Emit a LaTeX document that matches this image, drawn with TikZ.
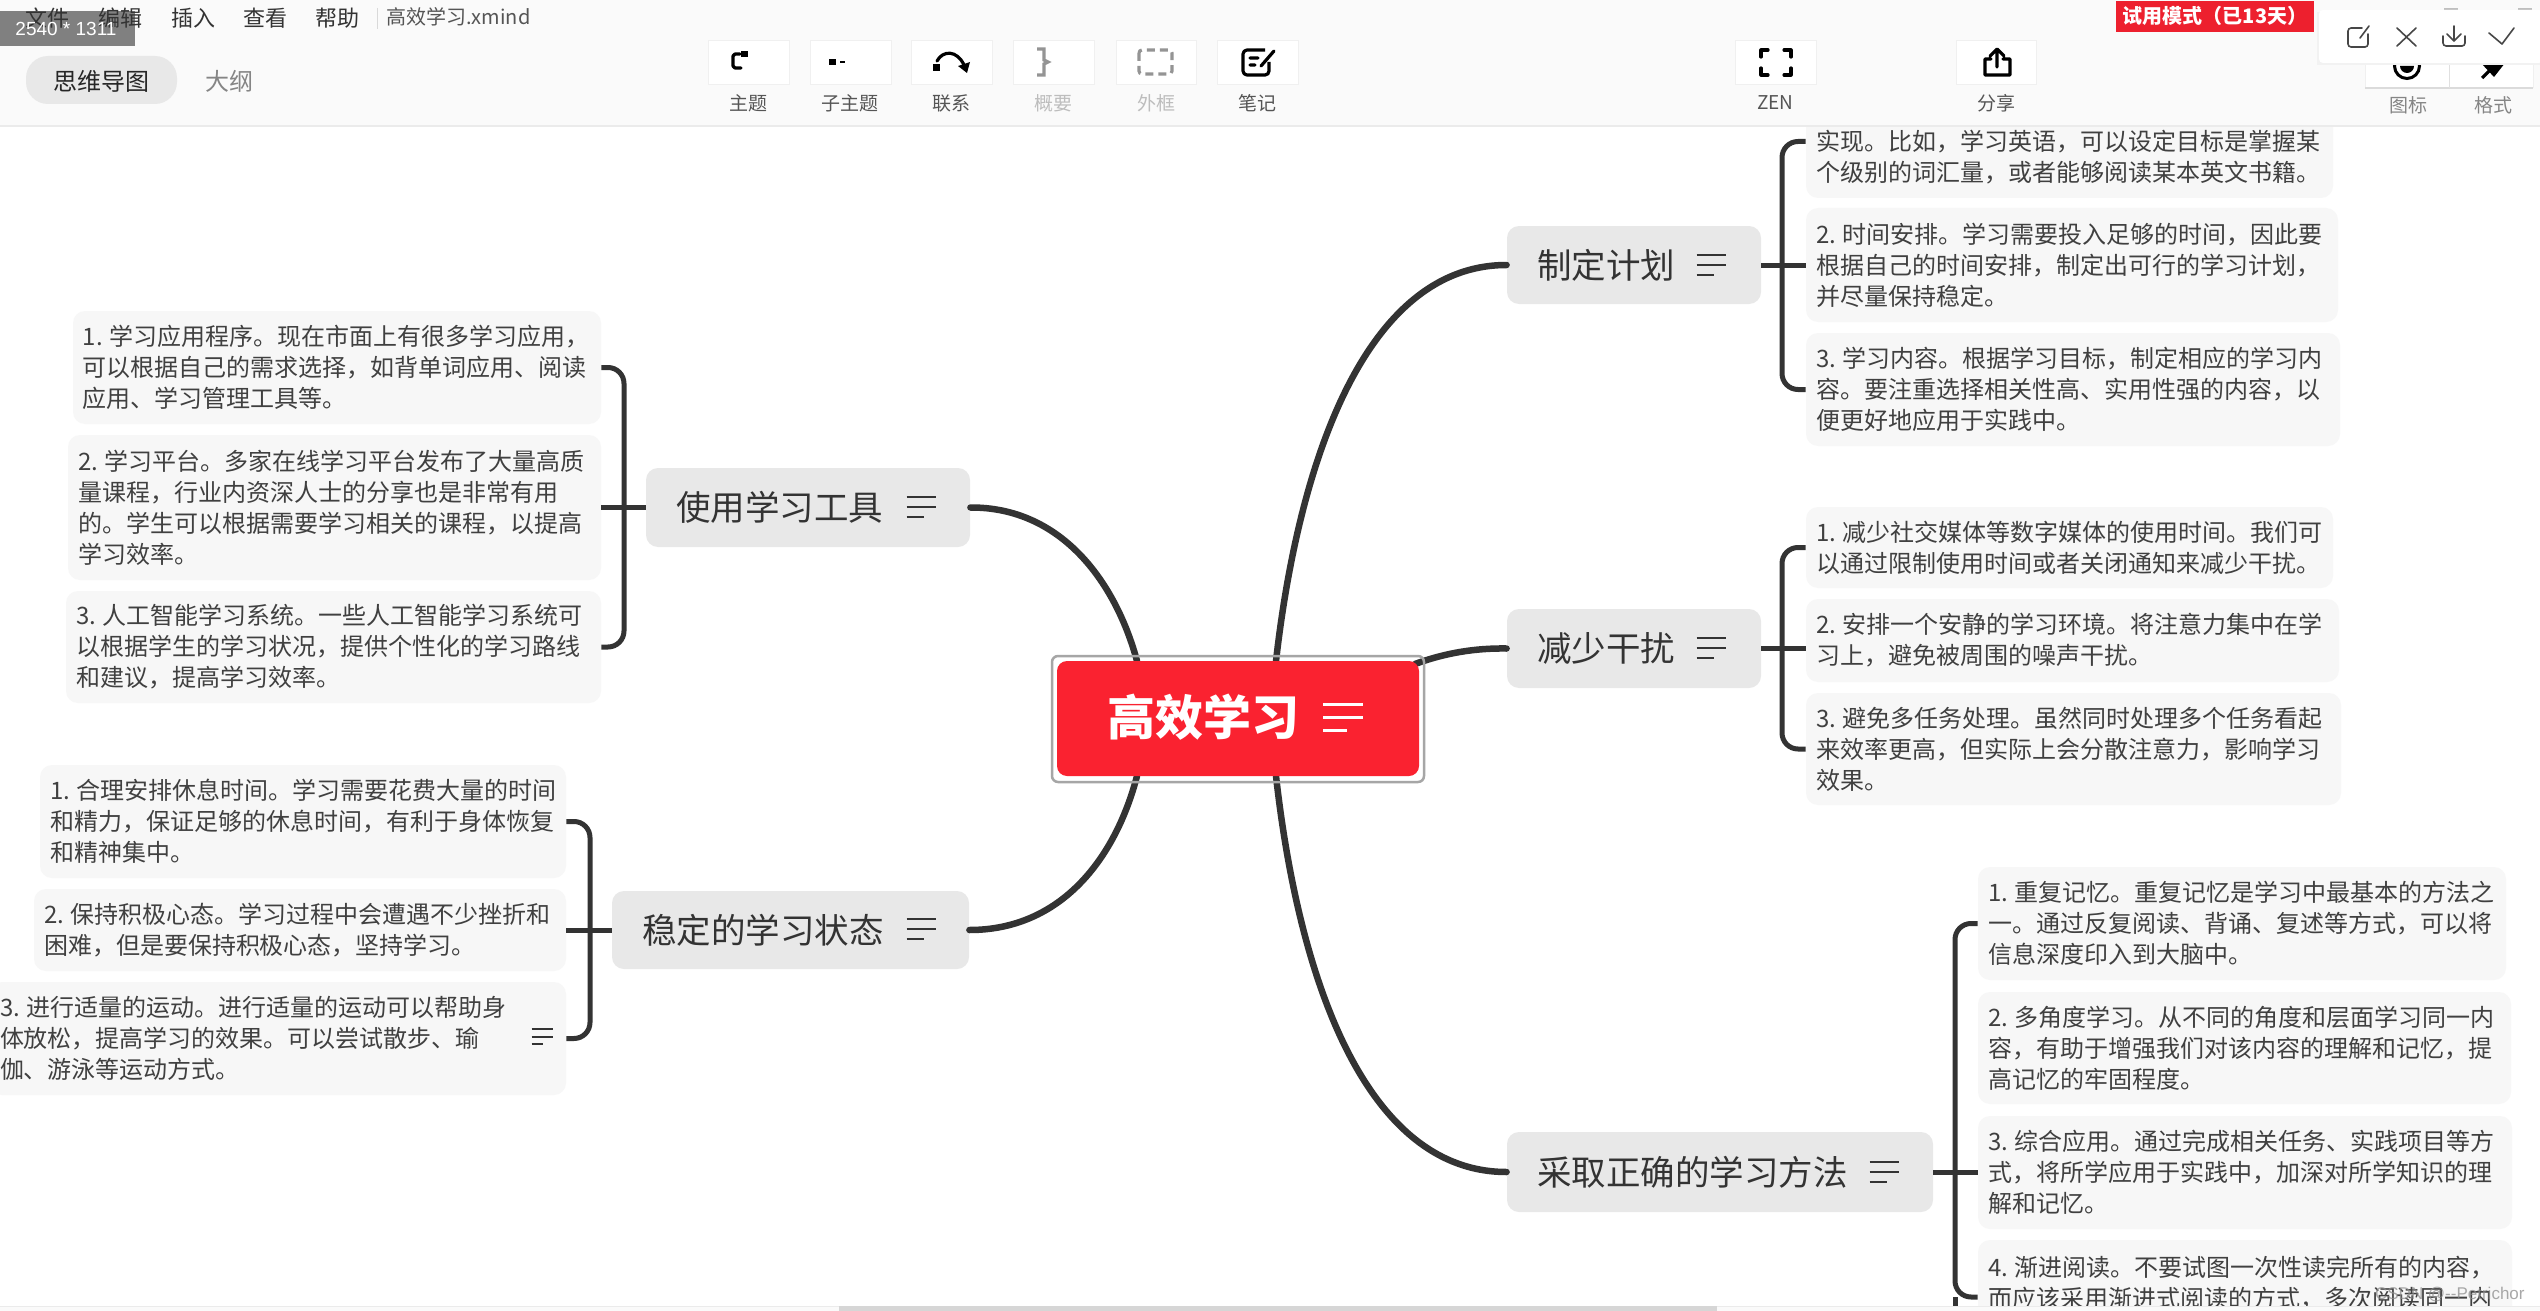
\documentclass[tikz,border=0pt]{standalone}
\usepackage{fontspec}
\setmainfont{Noto Sans CJK SC}
\newfontfamily\wmfont{Liberation Sans}
\definecolor{linec}{HTML}{333333}
\definecolor{notef}{HTML}{F7F7F7}
\definecolor{topicf}{HTML}{E8E8E8}
\definecolor{rootf}{HTML}{FA2230}
\definecolor{framec}{HTML}{A6A6A6}
\definecolor{barf}{HTML}{FAFAFA}
\definecolor{notet}{HTML}{404040}
\definecolor{uit}{HTML}{555555}
\definecolor{uid}{HTML}{BDBDBD}
\newcommand{\nstrut}{\rule{0pt}{10pt}}
\newcommand{\numgap}{\nobreak\hskip 3.5pt\relax}
\tikzset{
  note/.style 2 args={rectangle, rounded corners=6pt, fill=notef, inner xsep=5pt, inner ysep=0pt,
    minimum width=(#1)*0.5pt, minimum height=(#2)*0.5pt,
    /utils/exec={\pgfmathsetmacro\tbw{(#1)*0.5-10}}, text width=\tbw pt, align=flush left, text=notet,
    font=\fontsize{12pt}{15.5pt}\selectfont},
  topic/.style 2 args={rectangle, rounded corners=6pt, fill=topicf, inner xsep=15pt, inner ysep=0pt,
    minimum width=(#1)*0.5pt, minimum height=(#2)*0.5pt,
    /utils/exec={\pgfmathsetmacro\tbw{(#1)*0.5-30}}, text width=\tbw pt, align=left, text=linec,
    font=\fontsize{17.25pt}{20pt}\selectfont},
  branch/.style={draw=linec, line width=3.25pt, line cap=round},
  bracket/.style={draw=linec, line width=2.5pt, rounded corners=8pt},
  stem/.style={draw=linec, line width=2.5pt},
  uitext/.style={inner sep=0pt, font=\fontsize{#1}{#1}\selectfont},
  btn/.style={rectangle, fill=white, draw=black!6, line width=0.5pt, minimum height=22pt, inner sep=0pt},
  ico/.style={draw=black, line width=1.6pt, line cap=round, line join=round},
  icod/.style={draw=black!42, line width=1.6pt},
  pop/.style={draw=black!72, line width=0.8pt, line cap=round, line join=round},
  menuicon/.pic={\draw[line width=1.3pt,#1] (-14.5,-10)--(14.5,-10) (-14.5,0)--(14.5,0) (-14.5,10)--(2.5,10);},
  smallicon/.pic={\draw[line width=0.9pt,linec] (-10.5,-8)--(10.5,-8) (-10.5,0)--(10.5,0) (-10.5,7)--(1,7);},
}
\newcommand{\notebox}[6]{\node[note={#4-#2}{#5-#3}] (#1) at ({(#2+#4)/2},{(#3+#5)/2}) {#6};}
\newcommand{\topicbox}[6]{\node[topic={#4-#2}{#5-#3}] (#1) at ({(#2+#4)/2},{(#3+#5)/2}) {#6};}
\newcommand{\toolbtn}[4]{\draw[black!14,line width=1pt] (#2,#4+0.5)--(#3,#4+0.5);
  \node[btn,minimum width=(#3-#2)*0.5pt] (#1) at ({(#2+#3)/2},62.5) {};}
\begin{document}
\begin{tikzpicture}[x=0.5pt,y=-0.5pt]
\useasboundingbox (0,0) rectangle (2540,1311);
\fill[white] (0,0) rectangle (2540,1311);
\clip (0,0) rectangle (2540,1311);

% ---------- anchors on the central topic
\coordinate (rTR) at (1276,661);
\coordinate (rBR) at (1276,776);
\coordinate (rTL) at (1137,661);
\coordinate (rBL) at (1137,776);
\coordinate (rCorner) at (1415,664);

% ---------- topics
\topicbox{plan}{1507}{226}{1761}{304}{制定计划}
\topicbox{focus}{1507}{609}{1761}{688}{减少干扰}
\topicbox{method}{1507}{1132}{1933}{1212}{采取正确的学习方法}
\topicbox{tools}{646}{468}{970}{547}{使用学习工具}
\topicbox{state}{612}{891}{969}{969}{稳定的学习状态}
\path (1711,265) pic {menuicon=linec} (1711,648) pic {menuicon=linec} (1884,1172) pic {menuicon=linec}
      (921,507) pic {menuicon=linec} (921,929) pic {menuicon=linec};

% ---------- notes
\notebox{pa}{1806}{85}{2333}{198}{\nstrut\\实现。比如，学习英语，可以设定目标是掌握某\\个级别的词汇量，或者能够阅读某本英文书籍。}
\notebox{pb}{1806}{208}{2338}{322}{2.\numgap 时间安排。学习需要投入足够的时间，因此要\\根据自己的时间安排，制定出可行的学习计划，\\并尽量保持稳定。}
\notebox{pc}{1806}{333}{2340}{446}{3.\numgap 学习内容。根据学习目标，制定相应的学习内\\容。要注重选择相关性高、实用性强的内容，以\\便更好地应用于实践中。}

\notebox{fa}{1806}{507}{2333}{588}{1.\numgap 减少社交媒体等数字媒体的使用时间。我们可\\以通过限制使用时间或者关闭通知来减少干扰。}
\notebox{fb}{1806}{599}{2339}{682}{2.\numgap 安排一个安静的学习环境。将注意力集中在学\\习上，避免被周围的噪声干扰。}
\notebox{fc}{1806}{693}{2341}{805}{3.\numgap 避免多任务处理。虽然同时处理多个任务看起\\来效率更高，但实际上会分散注意力，影响学习\\效果。}

\notebox{ma}{1978}{867}{2506}{980}{1.\numgap 重复记忆。重复记忆是学习中最基本的方法之\\一。通过反复阅读、背诵、复述等方式，可以将\\信息深度印入到大脑中。}
\notebox{mb}{1978}{992}{2511}{1104}{2.\numgap 多角度学习。从不同的角度和层面学习同一内\\容，有助于增强我们对该内容的理解和记忆，提\\高记忆的牢固程度。}
\notebox{mc}{1978}{1116}{2512}{1229}{3.\numgap 综合应用。通过完成相关任务、实践项目等方\\式，将所学应用于实践中，加深对所学知识的理\\解和记忆。}
\notebox{md}{1978}{1240}{2512}{1354}{4.\numgap 渐进阅读。不要试图一次性读完所有的内容，\\而应该采用渐进式阅读的方式，多次阅读同一内\\\nstrut}

\notebox{ta}{73}{311}{601}{424}{1.\numgap 学习应用程序。现在市面上有很多学习应用，\\可以根据自己的需求选择，如背单词应用、阅读\\应用、学习管理工具等。}
\notebox{tb}{68}{435}{601}{580}{2.\numgap 学习平台。多家在线学习平台发布了大量高质\\量课程，行业内资深人士的分享也是非常有用\\的。学生可以根据需要学习相关的课程，以提高\\学习效率。}
\notebox{tc}{66}{591}{601}{703}{3.\numgap 人工智能学习系统。一些人工智能学习系统可\\以根据学生的学习状况，提供个性化的学习路线\\和建议，提高学习效率。}

\notebox{sa}{40}{765}{566}{878}{1.\numgap 合理安排休息时间。学习需要花费大量的时间\\和精力，保证足够的休息时间，有利于身体恢复\\和精神集中。}
\notebox{sb}{34}{889}{566}{971}{2.\numgap 保持积极心态。学习过程中会遭遇不少挫折和\\困难，但是要保持积极心态，坚持学习。}
\notebox{sc}{-10}{982}{566}{1095}{3.\numgap 进行适量的运动。进行适量的运动可以帮助身\\体放松，提高学习的效果。可以尝试散步、瑜\\伽、游泳等运动方式。}
\path (542,1037) pic {smallicon};

% ---------- main branches
\draw[branch] (rTR) .. controls (1300,450) and (1370,265) .. (plan.west);
\draw[branch] (rCorner) .. controls (1445,653) and (1475,648) .. (focus.west);
\draw[branch] (rBR) .. controls (1300,990) and (1370,1172) .. (method.west);
\draw[branch] (rTL) .. controls (1115,580) and (1060,507) .. (tools.east);
\draw[branch] (rBL) .. controls (1115,860) and (1060,930) .. (state.east);

% ---------- brackets
\coordinate (sp1) at (1782,265);
\coordinate (sp2) at (1782,648);
\coordinate (sp3) at (1955,1172);
\coordinate (sp4) at (624,507);
\coordinate (sp5) at (590,930);
\draw[bracket] (pa.west) -- (pa.west -| sp1) -- (pc.west -| sp1) -- (pc.west);
\draw[stem] (plan.east) -- (plan.east -| pb.west);
\draw[bracket] (fa.west) -- (fa.west -| sp2) -- (fc.west -| sp2) -- (fc.west);
\draw[stem] (focus.east) -- (focus.east -| fb.west);
\draw[bracket] (ma.west) -- (ma.west -| sp3) -- (md.west -| sp3) -- (md.west);
\coordinate (spEnd) at (1955,1311);
\draw[stem] (md.west -| sp3) -- (spEnd);
\draw[stem] (method.east) -- (method.east -| mc.west);
\draw[bracket] (ta.east) -- (ta.east -| sp4) -- (tc.east -| sp4) -- (tc.east);
\draw[stem] (tools.west) -- (tools.west -| tb.east);
\draw[bracket] (sa.east) -- (sa.east -| sp5) -- (sc.east -| sp5) -- (sc.east);
\draw[stem] (state.west) -- (state.west -| sb.east);

% ---------- central topic
\node[rectangle, rounded corners=5pt, fill=rootf, minimum width=181pt, minimum height=57.5pt, inner sep=0pt] (root) at (1238,718.5) {};
\node[inner sep=0pt, text=white, font=\fontsize{24pt}{24pt}\selectfont\bfseries, anchor=west] (roottext) at (1107,717) {高效学习};
\draw[white, line width=1.5pt] (1323,704)--(1363,704) (1323,717)--(1363,717) (1323,730)--(1347,730);
\node[rectangle, rounded corners=3pt, draw=framec, line width=1.25pt, minimum width=186pt, minimum height=63pt, inner sep=0pt] (rootframe) at (1238,719) {};

% ---------- toolbar
\fill[barf] (0,0) rectangle (2540,125);
\fill[black!8] (0,125) rectangle (2540,127);
\fill[black!50] (0,11) rectangle (135,46);
\node[uitext=11pt,text=linec] (m1) at (47.5,18) {文件};
\node[uitext=11pt,text=linec] (m2) at (120,18) {编辑};
\node[uitext=11pt,text=linec] (m3) at (193,18) {插入};
\node[uitext=11pt,text=linec] (m4) at (265,18) {查看};
\node[uitext=11pt,text=linec] (m5) at (337.5,18) {帮助};
\draw[black!15,line width=0.5pt] (377,8)--(377,29);
\node[uitext=10pt,text=uit,anchor=west] (fname) at (386,17) {高效学习.xmind};
\node[uitext=9pt,text=white,font=\wmfont\fontsize{9.5pt}{10pt}\selectfont] (dim) at (66,29) {2540 * 1311};
\node[rectangle,rounded corners=11pt,fill=topicf,minimum width=75.5pt,minimum height=24pt,inner sep=0pt] (mapTab) at (101.5,80) {};
\node[uitext=12pt,text=black!85] (mapTabT) at (101.5,81) {思维导图};
\node[uitext=12pt,text=black!48] (outlineT) at (229,81) {大纲};

\toolbtn{b1}{708}{789}{84}
\toolbtn{b2}{810}{891}{84}
\toolbtn{b3}{911}{992}{84}
\toolbtn{b4}{1013}{1094}{84}
\toolbtn{b5}{1116}{1196}{84}
\toolbtn{b6}{1217}{1298}{84}
\toolbtn{b7}{1735}{1816}{84}
\toolbtn{b8}{1956}{2036}{84}
\node[uitext=9.5pt,text=uit] (l1) at (748.5,103) {主题};
\node[uitext=9.5pt,text=uit] (l2) at (850,103) {子主题};
\node[uitext=9.5pt,text=uit] (l3) at (951.5,103) {联系};
\node[uitext=9.5pt,text=uid] (l4) at (1053.5,103) {概要};
\node[uitext=9.5pt,text=uid] (l5) at (1156,103) {外框};
\node[uitext=9.5pt,text=uit] (l6) at (1257.5,103) {笔记};
\node[uitext=9.5pt,text=uit] (l7) at (1775.5,103) {ZEN};
\node[uitext=9.5pt,text=uit] (l8) at (1996,103) {分享};
% icons
\fill[black] (741,51) rectangle (748,57);
\draw[ico] (740,54)--(735,54)--(733,56)--(733,66)--(735,68)--(741,68);
\fill[black] (829,59) rectangle (836,65);
\fill[black] (840,61) rectangle (845,63);
\fill[black] (933,64) rectangle (940,71);
\draw[ico] (937,61) .. controls (943,50) and (957,50) .. (964,65);
\fill[black] (967,73) -- (958,66) -- (970,62) -- cycle;
\draw[icod] (1037,49)--(1044,49)--(1044,60)--(1048,62)--(1044,64)--(1044,75)--(1037,75);
\draw[icod,dash pattern=on 4pt off 2.5pt,rounded corners=1.5pt] (1139,50) rectangle (1172,74);
\draw[ico,rounded corners=2pt,line cap=butt] (1265,50)--(1243,50)--(1243,75)--(1269,75)--(1269,62);
\draw[ico] (1250,58)--(1258,58) (1250,65)--(1255,65) (1261,66)--(1274,51);
\draw[ico] (1768,50)--(1761,50)--(1761,57) (1784,50)--(1791,50)--(1791,57)
           (1761,68)--(1761,75)--(1768,75) (1791,68)--(1791,75)--(1784,75);
\draw[ico] (1991,59)--(1985,59)--(1985,75)--(2010,75)--(2010,59)--(2003,59) (1997,67)--(1997,50) (1990,56)--(1997,49)--(2004,56);

% ---------- right corner
\fill[black!25] (2444,8) rectangle (2458,10);
\fill[black!25] (2518,8) rectangle (2532,10);
\node[rectangle,fill=white,draw=black!6,line width=0.5pt,minimum width=84pt,minimum height=22pt,inner sep=0pt] (gr) at (2449,66) {};
\draw[black!14,line width=1pt] (2365,88.5)--(2533,88.5);
\draw[black!12,line width=0.5pt] (2449,44)--(2449,88);
\draw[black,line width=1.5pt] (2407,66) circle[radius=12.5];
\fill[black] (2414,66) arc[start angle=0,end angle=180,radius=7] -- cycle;
\fill[black] (2481,63) -- (2505,63) -- (2494,77) -- cycle;
\draw[black,line width=1.6pt] (2482,78)--(2491,69);
\node[uitext=9.5pt,text=black!48] (l9) at (2408,105) {图标};
\node[uitext=9.5pt,text=black!48] (l10) at (2493,105) {格式};

\node[rectangle,fill=rootf!95!black,minimum width=99pt,minimum height=15.5pt,inner sep=0pt] (trial) at (2215,16.5) {};
\node[uitext=10pt,text=white,font=\fontsize{10pt}{10pt}\selectfont\bfseries] (trialT) at (2215,16) {试用模式（已13天）};

\fill[black!5] (2317,12) rectangle (2542,65);
\node[rectangle,rounded corners=2pt,fill=white,minimum width=112pt,minimum height=26.5pt,inner sep=0pt] (popup) at (2431,36.5) {};
\draw[pop,rounded corners=1.5pt] (2362,28)--(2348,28)--(2348,47)--(2368,47)--(2368,34);
\draw[pop] (2360,38)--(2369,26);
\draw[pop] (2397,28)--(2416,46) (2416,28)--(2397,46);
\draw[pop,rounded corners=1.5pt] (2443,36)--(2443,46)--(2465,46)--(2465,36);
\draw[pop] (2454,26)--(2454,41) (2447,34)--(2454,41)--(2461,34);
\draw[pop] (2489,33)--(2502,44)--(2514,28);

% ---------- bottom scroll bar
\fill[barf] (0,1306) rectangle (2540,1311);
\fill[black!8] (0,1306) rectangle (2540,1307);
\fill[black!16] (839,1306) rectangle (1717,1311);
\node[inner sep=0pt,text=black!45,opacity=0.75,font=\wmfont\fontsize{8.5pt}{9pt}\selectfont,anchor=east] (wm) at (2525,1295) {CSDN @--Petrichor};
\end{tikzpicture}
\end{document}
